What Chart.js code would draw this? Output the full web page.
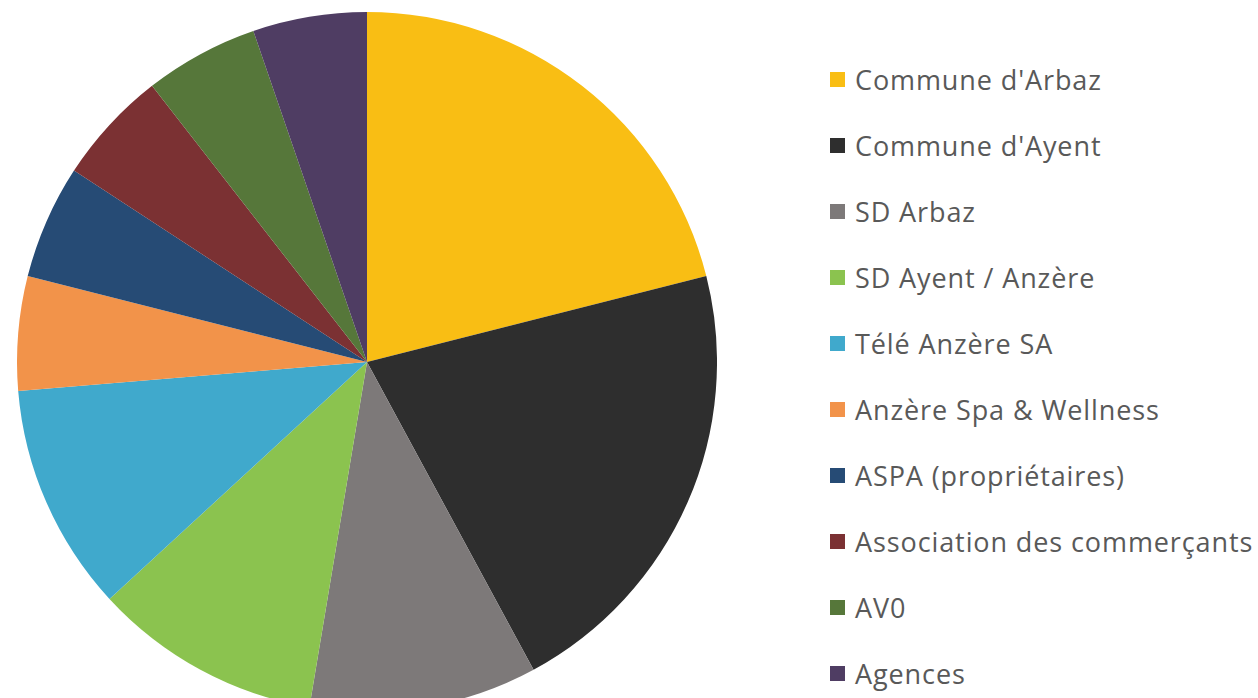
<!DOCTYPE html>
<html>
<head>
<meta charset="utf-8">
<script src="https://cdn.jsdelivr.net/npm/chart.js@4"></script>
<style>
    html, body {
        margin: 0;
        padding: 0;
        width: 1258px;
        height: 698px;
        overflow: hidden;
        background: #ffffff;
    }
    .pie-wrap {
        position: absolute;
        left: 17px;
        top: 12px;
        width: 700px;
        height: 700px;
    }
    .legend {
        position: absolute;
        left: 830px;
        top: 46px;
        margin: 0;
        padding: 0;
        list-style: none;
        font-family: "Open Sans", Lato, sans-serif;
        font-size: 27px;
        letter-spacing: 0.9px;
        color: #595959;
    }
    .legend li {
        height: 66px;
        display: flex;
        align-items: center;
        white-space: nowrap;
    }
    .legend span.box {
        width: 15px;
        height: 15px;
        margin-right: 10px;
        flex: none;
    }
</style>
</head>
<body>
<div class="pie-wrap"><canvas id="pie-chart"></canvas></div>
<ul class="legend"></ul>
<script>
const labels = [
    "Commune d'Arbaz",
    "Commune d'Ayent",
    "SD Arbaz",
    "SD Ayent / Anzère",
    "Télé Anzère SA",
    "Anzère Spa & Wellness",
    "ASPA (propriétaires)",
    "Association des commerçants",
    "AV0",
    "Agences",
];
const shares = [4, 4, 2, 2, 2, 1, 1, 1, 1, 1];
const colors = [
    "#F9BE14",
    "#2E2E2E",
    "#7D7979",
    "#8BC34F",
    "#40A9CC",
    "#F2934A",
    "#264B75",
    "#7B3133",
    "#56773A",
    "#4F3D63",
];

const pieChart = document.querySelector("canvas#pie-chart");

const data = {
    labels: labels,
    datasets: [
        {
            data: shares,
            backgroundColor: colors,
            borderWidth: 0,
            hoverOffset: 0,
        },
    ],
};
const config = {
    type: "pie",
    data: data,
    options: {
        responsive: true,
        maintainAspectRatio: false,
        animation: false,
        layout: { padding: 0 },
        plugins: {
            legend: { display: false },
            tooltip: { enabled: false },
        },
    },
};

const myChart = new Chart(pieChart, config);

// legend built from the same arrays
const legend = document.querySelector("ul.legend");
labels.forEach((label, i) => {
    const item = document.createElement("li");
    const box = document.createElement("span");
    box.className = "box";
    box.style.background = colors[i];
    item.appendChild(box);
    item.appendChild(document.createTextNode(label));
    legend.appendChild(item);
});
</script>
</body>
</html>
